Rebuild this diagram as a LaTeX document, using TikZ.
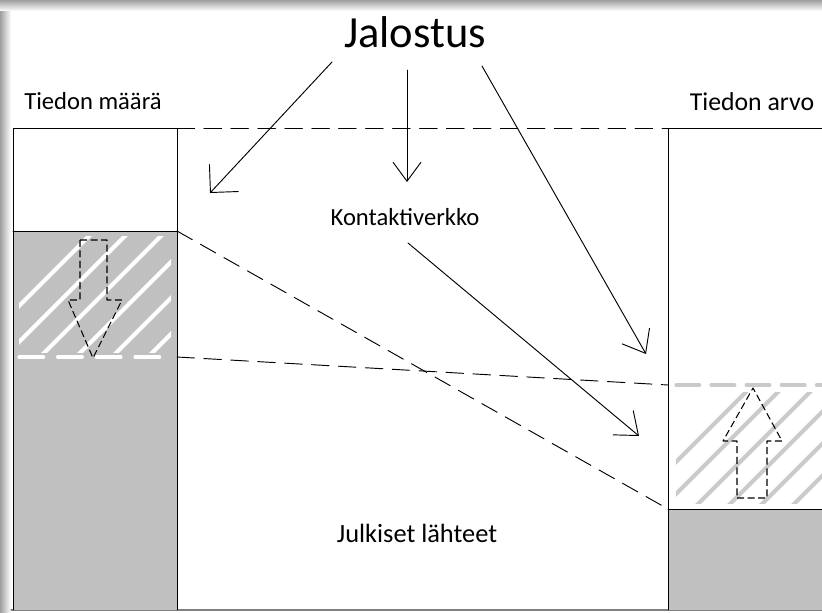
\documentclass[tikz,border=0pt]{standalone}
\usepackage{fontspec}
\setmainfont{Carlito}
\usetikzlibrary{arrows.meta}
\definecolor{boxgrey}{RGB}{192,192,192}
\definecolor{hatchgrey}{RGB}{202,202,202}

\begin{document}
\begin{tikzpicture}[x=0.03cm, y=-0.03cm, line join=round, line cap=round, >=stealth,
		barb/.style={-{Straight Barb[length=0.6cm,width=0.95cm]}, line width=0.8pt},
		guide/.style={dash pattern=on 15pt off 8pt, line width=0.8pt},
		hollow/.style={dash pattern=on 6pt off 3pt, line width=0.9pt, line cap=butt},
		lbl/.style={inner sep=0pt, anchor=base, font=\fontsize{21}{24}\selectfont}]
	\def\xl{13} \def\xr{177} % vasen pylväs
	\def\xa{668} \def\xb{822} % oikea pylväs
	\def\ytop{128} \def\ybot{610}
	\useasboundingbox (0,0) rectangle (822,612);
	% varjo reunoilla
	\shade[top color=gray!75, bottom color=white] (0,0) rectangle (822,11);
	\shade[left color=gray!75, right color=white] (0,11) rectangle (11,612);
	\draw[gray, line width=1pt] (11,\ybot) -- (822,\ybot);

	% vasen pylväs: määrä
	\fill[boxgrey] (\xl,231) rectangle (\xr,\ybot);
	\begin{scope}
		\clip (\xl+6,236) rectangle (\xr-6,352);
		\foreach \i in {0,...,8}
			\draw[white, line width=3.5pt] (\xl-60+\i*36,372) -- ++(150,-150);
	\end{scope}
	\draw[white, line width=2.8pt, dash pattern=on 21pt off 12pt] (\xl+6,357) -- (\xr-6,357);
	\draw[line width=0.8pt] (\xl,\ybot) -- (\xl,\ytop) -- (\xr,\ytop) -- (\xr,\ybot);
	\draw[line width=0.8pt] (\xl,231) -- (\xr,231);
	\draw[hollow] (80,240) -- (107,240) -- (107,300) -- (122,300) -- (93,358) -- (68,300) -- (80,300) -- cycle;

	% oikea pylväs: arvo
	\fill[boxgrey] (\xa,509) rectangle (\xb,\ybot);
	\begin{scope}
		\clip (\xa+8,392) rectangle (\xb,503);
		\foreach \i in {0,...,6}
			\draw[hatchgrey, line width=3.5pt] (\xa-50+\i*32,520) -- ++(150,-150);
	\end{scope}
	\draw[hatchgrey, line width=3pt, dash pattern=on 20pt off 10pt] (\xa+8,385) -- (\xb,385);
	\draw[line width=0.8pt] (\xa,\ybot) -- (\xa,\ytop) -- (\xb,\ytop);
	\draw[line width=0.8pt] (\xa,509) -- (\xb,509);
	\draw[hollow] (737,498) -- (767,498) -- (767,441) -- (782,441) -- (753,388) -- (723,441) -- (737,441) -- cycle;

	% tekstit
	\node[lbl, font=\fontsize{38}{42}\selectfont] (jalostus) at (415,47) {Jalostus};
	\node[lbl] (maara) at (93,109) {Tiedon määrä};
	\node[lbl, font=\fontsize{22}{25}\selectfont] (arvo) at (752,110) {Tiedon arvo};
	\node[lbl] (kontakti) at (405,225) {Kontaktiverkko};
	\node[lbl, font=\fontsize{22.5}{26}\selectfont] (julkiset) at (417,542) {Julkiset lähteet};

	% katkoviivat pylväiden välillä
	\coordinate (l1) at (\xr,\ytop); \coordinate (r1) at (\xa,\ytop);
	\coordinate (l2) at (\xr,231);   \coordinate (r2) at (\xa,509);
	\coordinate (l3) at (\xr,357);   \coordinate (r3) at (\xa,385);
	\draw[guide] (l1) -- (r1);
	\draw[guide] (l2) -- (r2);
	\draw[guide] (l3) -- (r3);

	% nuolet
	\coordinate (j1) at (332,62); \coordinate (t1) at (210,193);
	\coordinate (j2) at (407,70); \coordinate (t2) at (407,182);
	\coordinate (j3) at (482,66); \coordinate (t3) at (646,354);
	\coordinate (k1) at (408,243); \coordinate (t4) at (639,436);
	\draw[barb, -{Straight Barb[length=0.6cm,width=1.2cm]}] (j1) -- (t1);
	\draw[barb, -{Straight Barb[length=0.57cm,width=0.84cm]}] (j2) -- (t2);
	\draw[barb] (j3) -- (t3);
	\draw[barb] (k1) -- (t4);
\end{tikzpicture}
\end{document}
